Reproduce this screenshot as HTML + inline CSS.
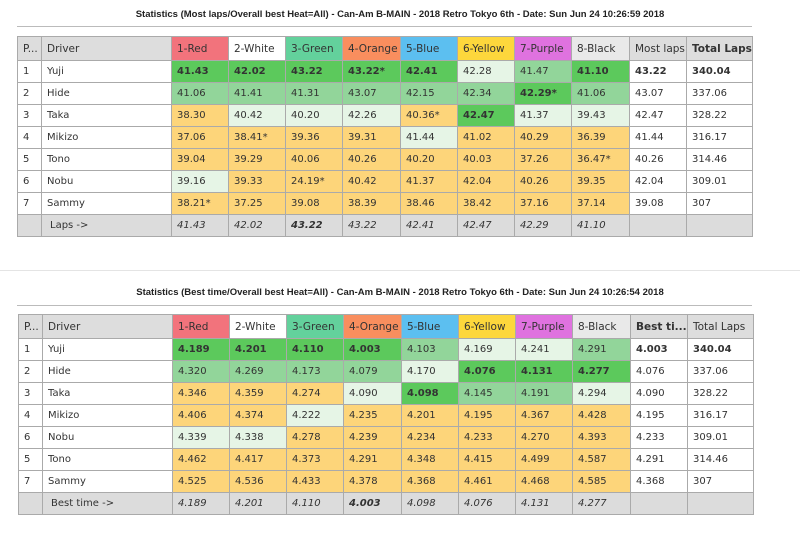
<!DOCTYPE html>
<html><head><meta charset="utf-8"><style>
body{margin:0;width:800px;height:544px;background:#fff;position:relative;overflow:hidden;font-family:"DejaVu Sans","Liberation Sans",sans-serif;}
.title{position:absolute;left:0;width:800px;text-align:center;font:bold 9.5px "Liberation Sans",sans-serif;color:#222;}
.rule{position:absolute;height:1px;background:#bbb;}
table{position:absolute;border-collapse:collapse;table-layout:fixed;font-size:10px;color:#333;}
td{border:1px solid #aaa;height:21px;padding:0 0 0 5px;white-space:nowrap;overflow:hidden;}
tr.h td{height:23px;background:#ddd;font-size:10.5px}
tr.f td{background:#dcdcdc;font-style:italic}
.G{background:#5cc95c}.M{background:#92d59a}.L{background:#e6f5e6}.Y{background:#fdd57a}
.b{font-weight:bold}
td.hr{background:#f2737c!important}td.hw{background:#fff!important}td.hg{background:#63d19c!important}td.ho{background:#f98e5e!important}
td.hb{background:#5cbff0!important}td.hy{background:#fdd73c!important}td.hp{background:#df72df!important}td.hk{background:#e9e9e9!important}
</style></head><body>
<div class="title" style="top:9px">Statistics (Most laps/Overall best Heat=All) - Can-Am B-MAIN - 2018 Retro Tokyo 6th - Date: Sun Jun 24 10:26:59 2018</div>
<div class="rule" style="top:26px;left:17px;width:735px"></div>
<table style="left:17px;top:36px;width:735px">
<colgroup><col style="width:24px"><col style="width:130px"><col style="width:57px"><col style="width:57px"><col style="width:57px"><col style="width:58px"><col style="width:57px"><col style="width:57px"><col style="width:57px"><col style="width:58px"><col style="width:57px"><col style="width:66px"></colgroup>
<tr class="h"><td>P...</td><td>Driver</td><td class="hr">1-Red</td><td class="hw">2-White</td><td class="hg">3-Green</td><td class="ho">4-Orange</td><td class="hb">5-Blue</td><td class="hy">6-Yellow</td><td class="hp">7-Purple</td><td class="hk">8-Black</td><td>Most laps</td><td class="b">Total Laps</td></tr>
<tr><td>1</td><td>Yuji</td><td class="G b">41.43</td><td class="G b">42.02</td><td class="G b">43.22</td><td class="G b">43.22*</td><td class="G b">42.41</td><td class="L">42.28</td><td class="M">41.47</td><td class="G b">41.10</td><td class="b">43.22</td><td class="b">340.04</td></tr>
<tr><td>2</td><td>Hide</td><td class="M">41.06</td><td class="M">41.41</td><td class="M">41.31</td><td class="M">43.07</td><td class="M">42.15</td><td class="M">42.34</td><td class="G b">42.29*</td><td class="M">41.06</td><td>43.07</td><td>337.06</td></tr>
<tr><td>3</td><td>Taka</td><td class="Y">38.30</td><td class="L">40.42</td><td class="L">40.20</td><td class="L">42.26</td><td class="Y">40.36*</td><td class="G b">42.47</td><td class="L">41.37</td><td class="L">39.43</td><td>42.47</td><td>328.22</td></tr>
<tr><td>4</td><td>Mikizo</td><td class="Y">37.06</td><td class="Y">38.41*</td><td class="Y">39.36</td><td class="Y">39.31</td><td class="L">41.44</td><td class="Y">41.02</td><td class="Y">40.29</td><td class="Y">36.39</td><td>41.44</td><td>316.17</td></tr>
<tr><td>5</td><td>Tono</td><td class="Y">39.04</td><td class="Y">39.29</td><td class="Y">40.06</td><td class="Y">40.26</td><td class="Y">40.20</td><td class="Y">40.03</td><td class="Y">37.26</td><td class="Y">36.47*</td><td>40.26</td><td>314.46</td></tr>
<tr><td>6</td><td>Nobu</td><td class="L">39.16</td><td class="Y">39.33</td><td class="Y">24.19*</td><td class="Y">40.42</td><td class="Y">41.37</td><td class="Y">42.04</td><td class="Y">40.26</td><td class="Y">39.35</td><td>42.04</td><td>309.01</td></tr>
<tr><td>7</td><td>Sammy</td><td class="Y">38.21*</td><td class="Y">37.25</td><td class="Y">39.08</td><td class="Y">38.39</td><td class="Y">38.46</td><td class="Y">38.42</td><td class="Y">37.16</td><td class="Y">37.14</td><td>39.08</td><td>307</td></tr>
<tr class="f"><td></td><td style="font-style:normal;padding-left:8px">Laps -&gt;</td><td>41.43</td><td>42.02</td><td class="b">43.22</td><td>43.22</td><td>42.41</td><td>42.47</td><td>42.29</td><td>41.10</td><td></td><td></td></tr>
</table>
<div class="rule" style="top:270px;left:0;width:800px;background:#e4e4e4"></div>
<div class="title" style="top:287px">Statistics (Best time/Overall best Heat=All) - Can-Am B-MAIN - 2018 Retro Tokyo 6th - Date: Sun Jun 24 10:26:54 2018</div>
<div class="rule" style="top:305px;left:17px;width:735px"></div>
<table style="left:18px;top:314px;width:735px">
<colgroup><col style="width:24px"><col style="width:130px"><col style="width:57px"><col style="width:57px"><col style="width:57px"><col style="width:58px"><col style="width:57px"><col style="width:57px"><col style="width:57px"><col style="width:58px"><col style="width:57px"><col style="width:66px"></colgroup>
<tr class="h"><td>P...</td><td>Driver</td><td class="hr">1-Red</td><td class="hw">2-White</td><td class="hg">3-Green</td><td class="ho">4-Orange</td><td class="hb">5-Blue</td><td class="hy">6-Yellow</td><td class="hp">7-Purple</td><td class="hk">8-Black</td><td class="b">Best ti...</td><td>Total Laps</td></tr>
<tr><td>1</td><td>Yuji</td><td class="G b">4.189</td><td class="G b">4.201</td><td class="G b">4.110</td><td class="G b">4.003</td><td class="M">4.103</td><td class="L">4.169</td><td class="L">4.241</td><td class="M">4.291</td><td class="b">4.003</td><td class="b">340.04</td></tr>
<tr><td>2</td><td>Hide</td><td class="M">4.320</td><td class="M">4.269</td><td class="M">4.173</td><td class="M">4.079</td><td class="L">4.170</td><td class="G b">4.076</td><td class="G b">4.131</td><td class="G b">4.277</td><td>4.076</td><td>337.06</td></tr>
<tr><td>3</td><td>Taka</td><td class="Y">4.346</td><td class="Y">4.359</td><td class="Y">4.274</td><td class="L">4.090</td><td class="G b">4.098</td><td class="M">4.145</td><td class="M">4.191</td><td class="L">4.294</td><td>4.090</td><td>328.22</td></tr>
<tr><td>4</td><td>Mikizo</td><td class="Y">4.406</td><td class="Y">4.374</td><td class="L">4.222</td><td class="Y">4.235</td><td class="Y">4.201</td><td class="Y">4.195</td><td class="Y">4.367</td><td class="Y">4.428</td><td>4.195</td><td>316.17</td></tr>
<tr><td>6</td><td>Nobu</td><td class="L">4.339</td><td class="L">4.338</td><td class="Y">4.278</td><td class="Y">4.239</td><td class="Y">4.234</td><td class="Y">4.233</td><td class="Y">4.270</td><td class="Y">4.393</td><td>4.233</td><td>309.01</td></tr>
<tr><td>5</td><td>Tono</td><td class="Y">4.462</td><td class="Y">4.417</td><td class="Y">4.373</td><td class="Y">4.291</td><td class="Y">4.348</td><td class="Y">4.415</td><td class="Y">4.499</td><td class="Y">4.587</td><td>4.291</td><td>314.46</td></tr>
<tr><td>7</td><td>Sammy</td><td class="Y">4.525</td><td class="Y">4.536</td><td class="Y">4.433</td><td class="Y">4.378</td><td class="Y">4.368</td><td class="Y">4.461</td><td class="Y">4.468</td><td class="Y">4.585</td><td>4.368</td><td>307</td></tr>
<tr class="f"><td></td><td style="font-style:normal;padding-left:8px">Best time -&gt;</td><td>4.189</td><td>4.201</td><td>4.110</td><td class="b">4.003</td><td>4.098</td><td>4.076</td><td>4.131</td><td>4.277</td><td></td><td></td></tr>
</table>
</body></html>
